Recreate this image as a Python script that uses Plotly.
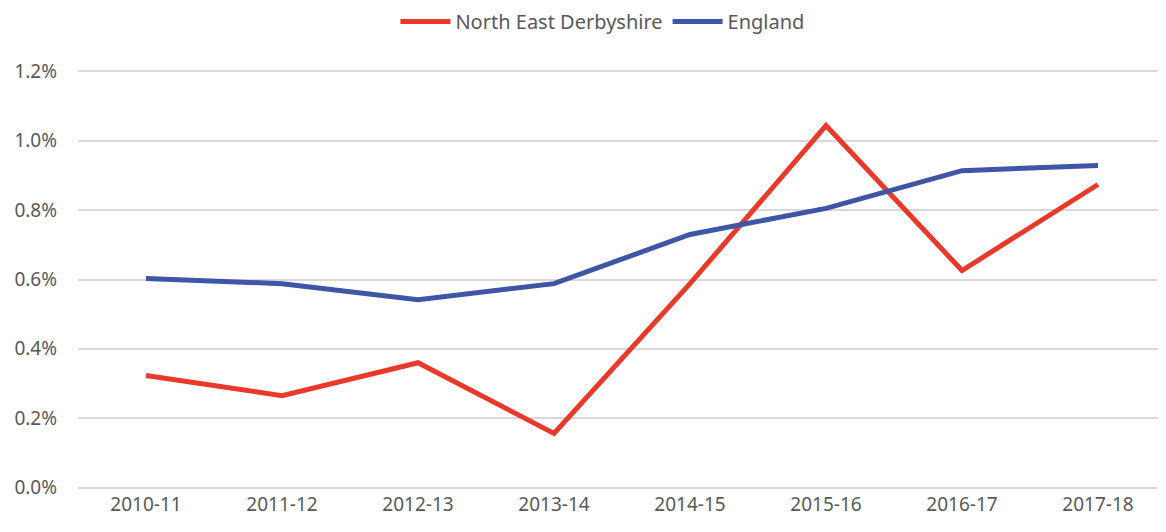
import plotly.graph_objects as go

years = ["2010-11", "2011-12", "2012-13", "2013-14", "2014-15", "2015-16", "2016-17", "2017-18"]
ned = [0.00323, 0.00265, 0.00360, 0.00156, 0.00588, 0.01044, 0.00626, 0.00874]
england = [0.00603, 0.00588, 0.00542, 0.00588, 0.00730, 0.00805, 0.00914, 0.00929]
tick_vals = [0, 0.002, 0.004, 0.006, 0.008, 0.010, 0.012]

fig = go.Figure()
fig.add_trace(go.Scatter(x=years, y=ned, mode="lines", name="North East Derbyshire",
                         line=dict(color="#E8392B", width=5)))
fig.add_trace(go.Scatter(x=years, y=england, mode="lines", name="England",
                         line=dict(color="#3F55A6", width=5)))

font = dict(family="Noto Sans, Open Sans, sans-serif", size=19, color="#595959")
fig.update_layout(
    width=1166, height=532,
    margin=dict(l=70, r=8, t=60, b=49, autoexpand=False),
    plot_bgcolor="white", paper_bgcolor="white",
    font=font,
    showlegend=True,
    legend=dict(orientation="h", x=0.482, xanchor="center", y=1.11, yanchor="middle",
                font=dict(family=font["family"], size=20, color="#595959"),
                bgcolor="rgba(0,0,0,0)", itemwidth=50),
    xaxis=dict(type="category", showgrid=False, showline=False, zeroline=False, ticks="",
               tickfont=font, range=[-0.5, 7.5], automargin=False),
    yaxis=dict(range=[-0.0001, 0.0121], tickvals=tick_vals, tickformat=".1%",
               showgrid=True, gridcolor="#D9D9D9", gridwidth=1.5, zeroline=False,
               showline=False, ticks="", tickfont=font, ticklabelstandoff=20, automargin=False),
)
fig.write_html("out.html")
